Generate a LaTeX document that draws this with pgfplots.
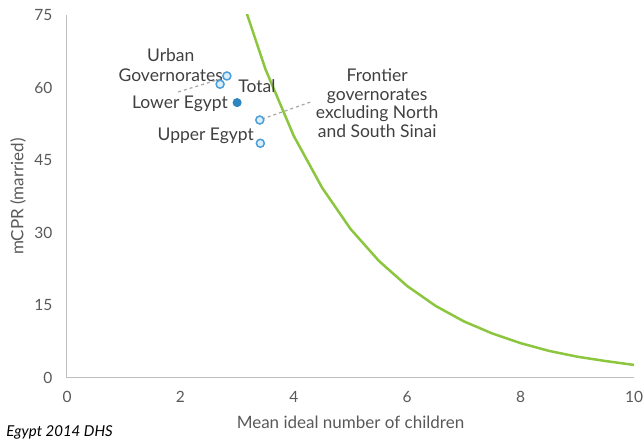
\documentclass[border=0pt]{standalone}
\usepackage{pgfplots}
\pgfplotsset{compat=1.18}
\usepackage{fontspec}
\setmainfont{Lato}
\definecolor{txt}{HTML}{404040}
\definecolor{tick}{HTML}{595959}
\definecolor{axline}{HTML}{BFBFBF}
\definecolor{curve}{HTML}{8CC63F}
\definecolor{mk}{HTML}{4A9FD8}
\definecolor{mkfill}{HTML}{DCEEFA}
\definecolor{mkdark}{HTML}{2E86C1}
\begin{document}
\begin{tikzpicture}
\useasboundingbox (-67pt,-68pt) rectangle (577pt,378pt);
\begin{axis}[
  at={(0pt,0pt)}, anchor=south west,
  scale only axis, width=567pt, height=363pt,
  xmin=0, xmax=10, ymin=0, ymax=75,
  xtick={0,2,4,6,8,10}, ytick={0,15,30,45,60,75},
  axis lines=left, axis line style={axline, line width=1pt, -},
  tick style={draw=none},
  ticklabel style={font=\fontsize{15.5}{17}\selectfont, text=tick},
  /pgf/number format/assume math mode=true,
  xticklabel style={yshift=-8pt},
  yticklabel style={xshift=-9pt},
  xlabel={Mean ideal number of children},
  ylabel={mCPR (married)},
  label style={font=\fontsize{17}{19}\selectfont, text=tick},
  xlabel style={at={(axis description cs:0.5,0)}, anchor=center, yshift=-44pt},
  ylabel style={at={(axis description cs:0,0.5)}, anchor=center, rotate=0, yshift=49pt},
  clip=true,
]
\addplot[curve, line width=2.5pt, no marks] coordinates {
 (3.0,81.3) (3.5,63.8) (4.0,50.0) (4.5,39.3) (5.0,30.8) (5.5,24.2) (6.0,19.0)
 (6.5,14.9) (7.0,11.7) (7.5,9.2) (8.0,7.2) (8.5,5.6) (9.0,4.4) (9.5,3.5) (10.0,2.7)};
\draw[gray!70, dashed, line width=1.2pt] (axis cs:1.96,59.1) -- (axis cs:2.77,62.0);
\draw[gray!70, dashed, line width=1.2pt] (axis cs:3.44,53.5) -- (axis cs:4.29,57.0);
\addplot[only marks, mark=*, mark size=4pt, mark options={draw=mk, fill=mkfill, line width=1.5pt}] coordinates {
 (2.82,62.4) (2.70,60.7) (3.40,53.3) (3.41,48.5)};
\addplot[only marks, mark=*, mark size=4pt, mark options={draw=mkdark, fill=mkdark, line width=1pt}] coordinates {
 (3.00,56.9)};
\begin{scope}[every node/.style={font=\fontsize{17.5}{20}\selectfont, text=txt}]
\node[align=center] at (axis cs:1.83,64.7) {Urban\\Governorates};
\node at (axis cs:3.35,60.3) {Total};
\node[anchor=east, inner sep=0pt] at (axis cs:2.84,56.6) {Lower Egypt};
\node[anchor=east, inner sep=0pt] at (axis cs:3.30,50.0) {Upper Egypt};
\node[align=center, font=\fontsize{17.5}{18.7}\selectfont] at (axis cs:5.47,56.8) {Frontier\\governorates\\excluding North\\and South Sinai};
\end{scope}
\end{axis}
\node[anchor=east, inner sep=0pt, font=\fontsize{15}{17}\selectfont\itshape, text=black] at (46pt,-54pt) {Egypt 2014 DHS};
\end{tikzpicture}
\end{document}
